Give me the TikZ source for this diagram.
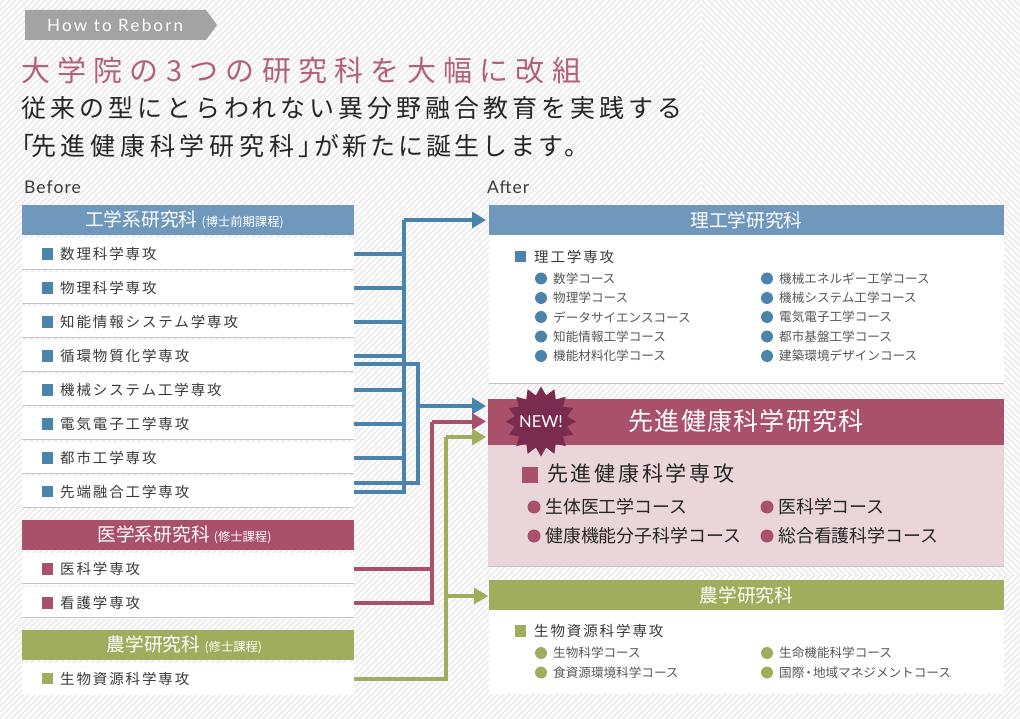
\documentclass[tikz,border=0pt]{standalone}
\usepackage{fontspec}
\usetikzlibrary{arrows.meta,shapes.geometric}
\newfontfamily\jp{Noto Sans CJK JP}
\newfontfamily\jpa[LetterSpace=25]{Noto Sans CJK JP}
\newfontfamily\jpb[LetterSpace=16]{Noto Sans CJK JP}
\newfontfamily\jpc[LetterSpace=13]{Noto Sans CJK JP}
\newfontfamily\jpd[LetterSpace=5]{Noto Sans CJK JP}
\newfontfamily\jpe[LetterSpace=19]{Noto Sans CJK JP}
\newfontfamily\jpf[LetterSpace=12]{Noto Sans CJK JP}
\newfontfamily\lat[LetterSpace=13]{Lato}
\newfontfamily\latc[LetterSpace=6]{Lato}
\newfontfamily\latb{Lato}
\definecolor{cB}{HTML}{4A84AD}
\definecolor{cBh}{HTML}{7098BD}
\definecolor{cP}{HTML}{A9506B}
\definecolor{cPl}{HTML}{E9D5DA}
\definecolor{cG}{HTML}{9FAD5C}
\definecolor{cS}{HTML}{7A2C4F}
\definecolor{cT}{HTML}{3A3A3A}
\definecolor{cL}{HTML}{C4C4C4}
\definecolor{cH}{HTML}{EDEDED}
\tikzset{
  head/.style={fill=#1,inner sep=0,minimum height=30pt,text=white,font=\jp\fontsize{18.7}{20}\selectfont},
  leftband/.style={fill=white,inner sep=0,minimum width=332pt,minimum height=32pt},
  rowsq/.style={fill=#1,inner sep=0,minimum size=11.5pt},
  rowtx/.style={anchor=west,inner sep=0,text=cT,font=\jpc\fontsize{14.5}{16}\selectfont},
  dot/.style={circle,fill=#1,inner sep=0,minimum size=12pt},
  crtx/.style={anchor=west,inner sep=0,text=cT!85,font=\jp\fontsize{12.6}{14}\selectfont},
  bigdot/.style={circle,fill=cP,inner sep=0,minimum size=13pt},
  bigtx/.style={anchor=west,inner sep=0,text=black!85,font=\jp\fontsize{17.9}{20}\selectfont},
  wire/.style={draw=#1,line width=4pt},
  wirea/.style={draw=#1,line width=4pt,-{Triangle[length=14pt,width=16pt]}},
  sep/.style={draw=cL,line width=1pt},
  hatch/.style={cH,line width=2pt},
  smalltx/.style={font=\jp\fontsize{12.5}{14}\selectfont},
}
\newcommand\leftrow[4]{% name, y, colour, text
  \node[leftband] (#1) at (188,#2) {};
  \node[rowsq=#3] (#1s) at (47.5,#2) {};
  \node[rowtx] (#1t) at (60,#2) {#4};
}
\newcommand\course[6]{% name, dotx, textx, y, colour, text
  \node[dot=#5] (#1d) at (#2,#4) {};
  \node[crtx] (#1t) at (#3,#4) {#6};
}
\newcommand\smalltext[1]{{\fontsize{12.3}{14}\selectfont #1}}
\begin{document}
\begin{tikzpicture}[x=1pt,y=-1pt]
\useasboundingbox (0,0) rectangle (1020,719);
\fill[white] (0,0) rectangle (1020,719);
\begin{scope}
\clip (0,0) -- (700,0) -- (700,575) -- (1020,575) -- (1020,719) -- (0,719) -- cycle;
\foreach \k in {0,6,...,1760} \draw[hatch] (\k,-2) -- (\k-740,738);
\end{scope}
\begin{scope}
\clip (700,0) rectangle (1020,575);
\foreach \k in {100,106,...,1020} \draw[hatch] (\k,-2) -- (\k+580,578);
\end{scope}

% tag and titles
\fill[fill=black!36] (25,10) -- (206,10) -- (217,25) -- (206,40) -- (25,40) -- cycle;
\node[anchor=west,inner sep=0,text=white,font=\lat\fontsize{17}{18}\selectfont] (tag) at (47,25.5) {How to Reborn};
\node[anchor=west,inner sep=0,text=cP!90!white,font=\jpa\fontsize{29}{32}\selectfont] (t1) at (21,70) {大学院の3つの研究科を大幅に改組};
\node[anchor=west,inner sep=0,text=black!85,font=\jpb\fontsize{25}{28}\selectfont] (t2) at (21,108) {従来の型にとらわれない異分野融合教育を実践する};
\node[anchor=west,inner sep=0,text=black!85,font=\jpe\fontsize{25}{28}\selectfont] (t3) at (9,146) {「\kern-3pt 先進健康科学研究科」\kern-9pt{\jpf\fontsize{25}{28}\selectfont が新たに誕生します。}};
\node[anchor=west,inner sep=0,text=cT,font=\latc\fontsize{17.5}{20}\selectfont] (bef) at (24,187) {Before};
\node[anchor=west,inner sep=0,text=cT,font=\latc\fontsize{17.5}{20}\selectfont] (aft) at (487,187) {After};

% left column
\node[head=cBh,minimum width=332pt] (hl1) at (188,220) {工学系研究科 \smalltext{(博士前期課程)}\kern 7pt};
\leftrow{r1}{254}{cB}{数理科学専攻}
\leftrow{r2}{288}{cB}{物理科学専攻}
\leftrow{r3}{322}{cB}{知能情報システム学専攻}
\leftrow{r4}{356}{cB}{循環物質化学専攻}
\leftrow{r5}{390}{cB}{機械システム工学専攻}
\leftrow{r6}{424}{cB}{電気電子工学専攻}
\leftrow{r7}{458}{cB}{都市工学専攻}
\leftrow{r8}{491.5}{cB}{先端融合工学専攻}
\foreach \yy in {269.5,303.5,337.5,371.5,405.5,439.5,473.5,507.5}
  \draw[sep] (22,\yy) -- (354,\yy);

\node[head=cP,minimum width=332pt] (hl2) at (188,535) {医学系研究科 \smalltext{(修士課程)}\kern 7pt};
\leftrow{m1}{569}{cP}{医科学専攻}
\leftrow{m2}{603}{cP}{看護学専攻}
\draw[sep] (22,583.5) -- (354,583.5);
\draw[sep] (22,617.5) -- (354,617.5);

\node[head=cG,minimum width=332pt] (hl3) at (188,645) {農学研究科 \smalltext{(修士課程)}\kern 7pt};
\leftrow{g1}{678.5}{cG}{生物資源科学専攻}

% right: riko
\fill[white] (489,235) rectangle (1004,383);
\draw[sep] (489,383.5) -- (1004,383.5);
\node[head=cBh,minimum width=515pt] (hr1) at (746.5,220) {理工学研究科};
\node[rowsq=cB] (rs) at (520.5,256.5) {};
\node[rowtx] (rst) at (534,256.5) {理工学専攻};
\course{a1}{541}{553}{278.5}{cB}{数学コース}
\course{a2}{541}{553}{298}{cB}{物理学コース}
\course{a3}{541}{553}{317}{cB}{データサイエンスコース}
\course{a4}{541}{553}{336.5}{cB}{知能情報工学コース}
\course{a5}{541}{553}{356}{cB}{機能材料化学コース}
\course{b1}{767}{779}{278.5}{cB}{機械エネルギー工学コース}
\course{b2}{767}{779}{298}{cB}{機械システム工学コース}
\course{b3}{767}{779}{317}{cB}{電気電子工学コース}
\course{b4}{767}{779}{336.5}{cB}{都市基盤工学コース}
\course{b5}{767}{779}{356}{cB}{建築環境デザインコース}

% right: sentan
\fill[cPl] (488,445) rectangle (1004,566);
\draw[sep] (488,566.5) -- (1004,566.5);
\node[head=cP,minimum width=516pt,minimum height=46pt] (hr2) at (746,422) {};
\node[inner sep=0,text=white,font=\jpd\fontsize{25}{28}\selectfont] (hr2t) at (746,421) {先進健康科学研究科};
\node[fill=cP,inner sep=0,minimum size=16pt] (ps) at (530,475) {};
\node[anchor=west,inner sep=0,text=black!85,font=\jpc\fontsize{21}{24}\selectfont] (pst) at (547,474) {先進健康科学専攻};
\node[bigdot] (p1d) at (534,507) {};
\node[bigtx] (p1t) at (545,507) {生体医工学コース};
\node[bigdot] (p2d) at (534,536) {};
\node[bigtx] (p2t) at (545,536) {健康機能分子科学コース};
\node[bigdot] (p3d) at (767,507) {};
\node[bigtx] (p3t) at (778,507) {医科学コース};
\node[bigdot] (p4d) at (767,536) {};
\node[bigtx] (p4t) at (778,536) {総合看護科学コース};

% right: nogaku
\fill[white] (489,609) rectangle (1004,694);
\node[head=cG,minimum width=515pt] (hr3) at (746.5,595) {農学研究科};
\node[rowsq=cG] (gs) at (520.5,631) {};
\node[rowtx] (gst) at (534,631) {生物資源科学専攻};
\course{c1}{541}{553}{653}{cG}{生物科学コース}
\course{c2}{541}{553}{672.5}{cG}{食資源環境科学コース}
\course{d1}{767}{779}{653}{cG}{生命機能科学コース}
\course{d2}{767}{779}{672.5}{cG}{国際\kern-2pt・\kern-2pt 地域マネジメントコース}

% connector junctions
\coordinate (tB) at (404,220);
\coordinate (tS) at (418,406);
\coordinate (tP) at (432,421.5);
\coordinate (tG) at (446,437);
\coordinate (inB) at (486,220);
\coordinate (inS) at (486,406);
\coordinate (inP) at (486,421.5);
\coordinate (inG) at (486,437);
\coordinate (jG) at (446,596);
\coordinate (inG2) at (488,596);
\coordinate (c4) at (354,364);
\coordinate (c8) at (354,483);

\foreach \n in {r1,r2,r3,r4,r5,r6,r7,r8} \draw[wire=cB] (\n.east) -| (tB);
\draw[wirea=cB] (tB) -- (inB);
\draw[wire=cB] (c4) -| (tS);
\draw[wire=cB] (c8) -| (tS);
\draw[wirea=cB] (tS) -- (inS);
\draw[wire=cP] (m1.east) -| (tP);
\draw[wire=cP] (m2.east) -| (tP);
\draw[wirea=cP] (tP) -- (inP);
\draw[wire=cG] (g1.east) -| (tG);
\draw[wirea=cG] (tG) -- (inG);
\draw[wirea=cG] (jG) -- (inG2);

% badge
\node[star,star points=16,star point ratio=1.32,fill=cS,inner sep=0,minimum size=70pt] (nw) at (541,421.5) {};
\node[inner sep=0,text=white,font=\latb\fontsize{16.5}{18}\selectfont] (nwt) at (541,421.5) {NEW!};
\end{tikzpicture}
\end{document}
